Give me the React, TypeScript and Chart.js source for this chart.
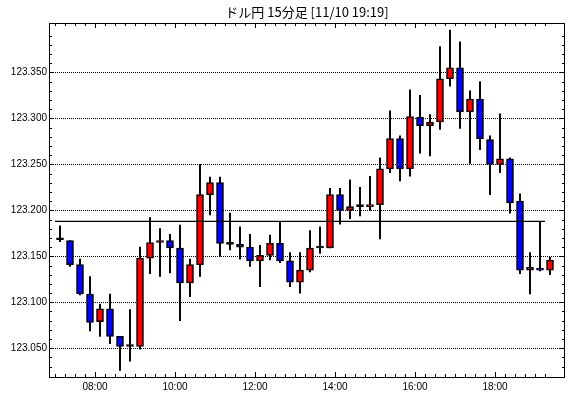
import React, { useEffect, useRef } from "react";
import { Chart, registerables } from "chart.js";

Chart.register(...registerables);

const TITLE = "ドル円 15分足 [11/10 19:19]";

const TIMES = [
  "07:00", "07:15", "07:30", "07:45",
  "08:00", "08:15", "08:30", "08:45",
  "09:00", "09:15", "09:30", "09:45",
  "10:00", "10:15", "10:30", "10:45",
  "11:00", "11:15", "11:30", "11:45",
  "12:00", "12:15", "12:30", "12:45",
  "13:00", "13:15", "13:30", "13:45",
  "14:00", "14:15", "14:30", "14:45",
  "15:00", "15:15", "15:30", "15:45",
  "16:00", "16:15", "16:30", "16:45",
  "17:00", "17:15", "17:30", "17:45",
  "18:00", "18:15", "18:30", "18:45",
  "19:00", "19:15",
];

const OPEN = [
  123.168, 123.167, 123.141, 123.109, 123.079, 123.093, 123.063, 123.052,
  123.052, 123.148, 123.165, 123.167, 123.159, 123.121, 123.141, 123.217,
  123.230, 123.163, 123.163, 123.160, 123.145, 123.151, 123.164, 123.145,
  123.122, 123.135, 123.159, 123.159, 123.217, 123.200, 123.204, 123.204,
  123.206, 123.245, 123.278, 123.245, 123.301, 123.292, 123.296, 123.343,
  123.355, 123.307, 123.321, 123.277, 123.250, 123.256, 123.210, 123.135,
  123.137, 123.135,
];
const HIGH = [
  123.183, 123.167, 123.147, 123.128, 123.098, 123.109, 123.063, 123.092,
  123.160, 123.192, 123.180, 123.174, 123.184, 123.147, 123.250, 123.236,
  123.236, 123.197, 123.182, 123.174, 123.162, 123.173, 123.188, 123.154,
  123.154, 123.178, 123.182, 123.224, 123.224, 123.233, 123.225, 123.237,
  123.257, 123.308, 123.281, 123.331, 123.325, 123.304, 123.378, 123.396,
  123.383, 123.330, 123.340, 123.281, 123.305, 123.257, 123.218, 123.154,
  123.188, 123.149,
];
const LOW = [
  123.166, 123.139, 123.108, 123.069, 123.063, 123.055, 123.026, 123.036,
  123.049, 123.131, 123.128, 123.132, 123.080, 123.106, 123.128, 123.195,
  123.150, 123.157, 123.147, 123.139, 123.117, 123.146, 123.143, 123.117,
  123.110, 123.133, 123.153, 123.159, 123.185, 123.191, 123.194, 123.200,
  123.169, 123.241, 123.232, 123.237, 123.262, 123.259, 123.288, 123.335,
  123.289, 123.251, 123.266, 123.217, 123.241, 123.197, 123.131, 123.109,
  123.134, 123.130,
];
const CLOSE = [
  123.168, 123.141, 123.109, 123.078, 123.093, 123.063, 123.052, 123.052,
  123.148, 123.165, 123.167, 123.159, 123.121, 123.141, 123.217, 123.230,
  123.164, 123.163, 123.160, 123.145, 123.151, 123.164, 123.145, 123.122,
  123.135, 123.159, 123.159, 123.217, 123.200, 123.204, 123.204, 123.206,
  123.245, 123.278, 123.245, 123.302, 123.292, 123.296, 123.343, 123.355,
  123.307, 123.321, 123.278, 123.250, 123.256, 123.208, 123.135, 123.138,
  123.135, 123.146,
];

const REF_RATE = 123.188;
const REF_FROM = "07:00";
const REF_TO = "19:15";

const X_LABEL_TIMES = ["08:00", "10:00", "12:00", "14:00", "16:00", "18:00"];
const Y_LABELS = [123.05, 123.1, 123.15, 123.2, 123.25, 123.3, 123.35];

const X_MIN = "06:51";
const X_MAX = "19:45";
const Y_MIN = 123.0188;
const Y_MAX = 123.4036;
const Y_MINOR_FROM = 123.03;
const Y_MINOR_TO = 123.39;

const UP = "#ff0000";
const DOWN = "#0000ff";
const FONT_TICK = { family: "'Liberation Sans', Arial, sans-serif", size: 10 };

const toMin = (s: string) => {
  const [h, m] = s.split(":").map(Number);
  return h * 60 + m;
};
const fmtTime = (v: number) => {
  const h = Math.floor(v / 60);
  const m = v % 60;
  return String(h).padStart(2, "0") + ":" + String(m).padStart(2, "0");
};
const HALF_SLOT = 7.5;

const isMajorY = (v: number) =>
  Y_LABELS.some((l) => Math.abs(l - v) < 1e-7);

const framePlugin = {
  id: "frameTicks",
  afterDraw(chart: any) {
    const { ctx, chartArea } = chart;
    const { left, right, top, bottom } = chartArea;
    const xs = chart.scales.x;
    const ys = chart.scales.y;
    ctx.save();
    ctx.strokeStyle = "#000";
    ctx.lineWidth = 1;
    ctx.beginPath();
    xs.ticks.forEach((t: any) => {
      const px = Math.round(xs.getPixelForValue(t.value)) + 0.5;
      const len = t.label ? 5 : 3;
      ctx.moveTo(px, bottom);
      ctx.lineTo(px, bottom - len);
      ctx.moveTo(px, top);
      ctx.lineTo(px, top + len);
    });
    ys.ticks.forEach((t: any) => {
      const py = Math.round(ys.getPixelForValue(t.value)) + 0.5;
      const len = isMajorY(t.value) ? 5 : 3;
      ctx.moveTo(left, py);
      ctx.lineTo(left + len, py);
      ctx.moveTo(right, py);
      ctx.lineTo(right - len, py);
    });
    ctx.stroke();
    ctx.strokeRect(
      Math.round(left) + 0.5,
      Math.round(top) + 0.5,
      Math.round(right) - Math.round(left) - 1,
      Math.round(bottom) - Math.round(top)
    );
    ctx.restore();
  },
};

export default function App() {
  const ref = useRef<HTMLCanvasElement>(null);

  useEffect(() => {
    if (!ref.current) return;
    const bodies = TIMES.map((t, i) => ({
      x: toMin(t) + HALF_SLOT,
      y: [OPEN[i], CLOSE[i]],
    }));
    const wicks = TIMES.map((t, i) => ({
      x: toMin(t) + HALF_SLOT,
      y: [LOW[i], HIGH[i]],
    }));
    const bodyColors = TIMES.map((_, i) =>
      CLOSE[i] > OPEN[i] ? UP : CLOSE[i] < OPEN[i] ? DOWN : "#000000"
    );

    const xTicks: number[] = [];
    for (let v = toMin(TIMES[0]); v <= toMin(TIMES[TIMES.length - 1]); v += 15) xTicks.push(v);
    const xLabelMins = X_LABEL_TIMES.map(toMin);

    const yTicks: number[] = [];
    for (let k = Math.round(Y_MINOR_FROM * 100); k <= Math.round(Y_MINOR_TO * 100); k++) yTicks.push(k / 100);

    const chart = new Chart(ref.current, {
      type: "bar",
      data: {
        datasets: [
          {
            type: "line",
            data: [
              { x: toMin(REF_FROM), y: REF_RATE },
              { x: toMin(REF_TO), y: REF_RATE },
            ],
            borderColor: "#000",
            borderWidth: 1.3,
            pointRadius: 0,
            order: 0,
          } as any,
          {
            data: bodies as any,
            backgroundColor: bodyColors,
            borderColor: "#000",
            borderWidth: 1.5,
            borderSkipped: false,
            barThickness: 7,
            minBarLength: 2,
            grouped: false,
            order: 1,
          } as any,
          {
            data: wicks as any,
            backgroundColor: "#000",
            borderWidth: 0,
            barThickness: 1.3,
            grouped: false,
            order: 2,
          } as any,
        ],
      },
      options: {
        responsive: false,
        animation: false,
        events: [],
        layout: { padding: { left: 0, right: 5, top: 0, bottom: 0 } },
        plugins: {
          legend: { display: false },
          tooltip: { enabled: false },
          title: {
            display: true,
            text: TITLE,
            fullSize: false,
            color: "#000",
            font: { family: "'Noto Sans CJK JP', sans-serif", size: 13, weight: "normal", lineHeight: 1.2 },
            padding: { top: 4, bottom: 3.4 },
          },
        },
        scales: {
          x: {
            type: "linear",
            min: toMin(X_MIN),
            max: toMin(X_MAX),
            offset: false,
            grid: { display: false, drawTicks: false },
            border: { display: false },
            afterBuildTicks: (s: any) => {
              s.ticks = xTicks.map((v) => ({ value: v }));
            },
            afterFit: (s: any) => {
              s.height = 21;
            },
            ticks: {
              autoSkip: false,
              maxRotation: 0,
              minRotation: 0,
              padding: 4,
              color: "#000",
              font: FONT_TICK,
              callback: (v: any) => (xLabelMins.includes(Number(v)) ? fmtTime(Number(v)) : ""),
            },
          },
          y: {
            type: "linear",
            min: Y_MIN,
            max: Y_MAX,
            grid: {
              drawTicks: false,
              lineWidth: 1,
              color: (c: any) => (c.tick && isMajorY(c.tick.value) ? "#000" : "rgba(0,0,0,0)"),
            },
            border: { display: false, dash: [1, 1] },
            afterBuildTicks: (s: any) => {
              s.ticks = yTicks.map((v) => ({ value: v }));
            },
            afterFit: (s: any) => {
              s.width = 49;
            },
            ticks: {
              autoSkip: false,
              padding: 2,
              color: "#000",
              font: FONT_TICK,
              callback: (v: any) => (isMajorY(Number(v)) ? Number(v).toFixed(3) : ""),
            },
          },
        },
      } as any,
      plugins: [framePlugin],
    });
    return () => chart.destroy();
  }, []);

  return (
    <div style={{ position: "absolute", left: 0, top: 0, width: 570, height: 398, background: "#fff" }}>
      <canvas ref={ref} width={570} height={398} style={{ display: "block", width: 570, height: 398 }} />
    </div>
  );
}
